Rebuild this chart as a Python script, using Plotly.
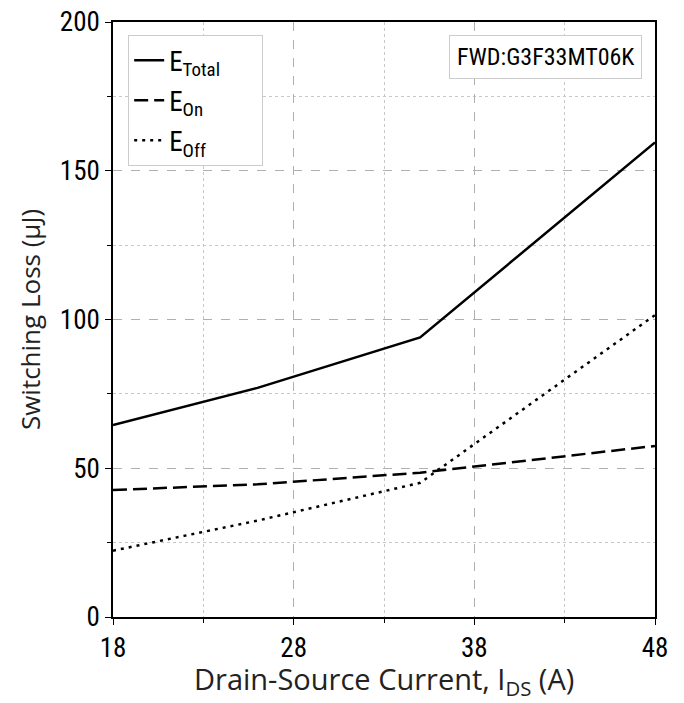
import plotly.graph_objects as go

current = [18, 26, 35, 48]
e_total = [64.5, 77.0, 94.0, 159.5]
e_on = [42.7, 44.6, 48.5, 57.5]
e_off = [22.3, 32.4, 45.1, 101.5]

series = [
    ("E<sub>Total</sub>", e_total, "solid"),
    ("E<sub>On</sub>", e_on, "14px,6px"),
    ("E<sub>Off</sub>", e_off, "3px,5px"),
]

FONT = "Roboto Condensed, Liberation Sans Narrow, DejaVu Sans Condensed, sans-serif"
TFONT = "Open Sans, Roboto, sans-serif"

fig = go.Figure()
for i, (name, vals, dash) in enumerate(series):
    fig.add_trace(go.Scatter(x=current, y=vals, mode="lines",
                             name=name + "&nbsp;" * 6,
                             legendgroup=f"g{i}",
                             line=dict(color="black", width=2.5, dash=dash)))

axis_common = dict(
    showline=True, linecolor="black", linewidth=1.5, mirror=True,
    ticks="outside", ticklen=6, tickwidth=1.2, tickcolor="black",
    showgrid=True, gridcolor="#b0b0b0", gridwidth=1, griddash="dash",
    zeroline=False, automargin=False,
    tickfont=dict(family=FONT, size=27, color="black"),
)

fig.update_xaxes(
    range=[18, 48], tickvals=[18, 28, 38, 48],
    minor=dict(tickvals=[23, 33, 43], ticks="outside", ticklen=4, tickcolor="black",
               showgrid=True, gridcolor="#c8c8c8", griddash="dot", gridwidth=1),
    **axis_common,
)
fig.update_yaxes(
    range=[0, 200], tickvals=[0, 50, 100, 150, 200],
    minor=dict(tickvals=[25, 75, 125, 175], ticks="outside", ticklen=4, tickcolor="black",
               showgrid=True, gridcolor="#c8c8c8", griddash="dot", gridwidth=1),
    title=dict(text="Switching Loss (μJ)",
               font=dict(family=TFONT, size=26, color="#222"), standoff=12),
    **axis_common,
)

# x-axis title placed below the tick labels
fig.add_annotation(
    text="Drain-Source Current, I<sub>DS</sub> (A)", xref="paper", yref="paper",
    x=0.5, y=0, xanchor="center", yanchor="top", yshift=-40, showarrow=False,
    font=dict(family=TFONT, size=29, color="#222"),
)

fig.add_annotation(
    text="FWD:G3F33MT06K", xref="paper", yref="paper", x=0.976, y=0.978,
    xanchor="right", yanchor="top", showarrow=False,
    font=dict(family=FONT, size=24, color="black"),
    bordercolor="#cccccc", borderwidth=1, borderpad=7, bgcolor="white",
)

fig.update_layout(
    width=684, height=703,
    margin=dict(l=113, r=29, t=22, b=86),
    plot_bgcolor="white", paper_bgcolor="white",
    font=dict(family=FONT, color="black"),
    legend=dict(x=0.028, y=0.978, xanchor="left", yanchor="top",
                bgcolor="white", bordercolor="#cccccc", borderwidth=1,
                font=dict(family=FONT, size=27, color="black"),
                tracegroupgap=2),
)

fig.write_html("out.html")
